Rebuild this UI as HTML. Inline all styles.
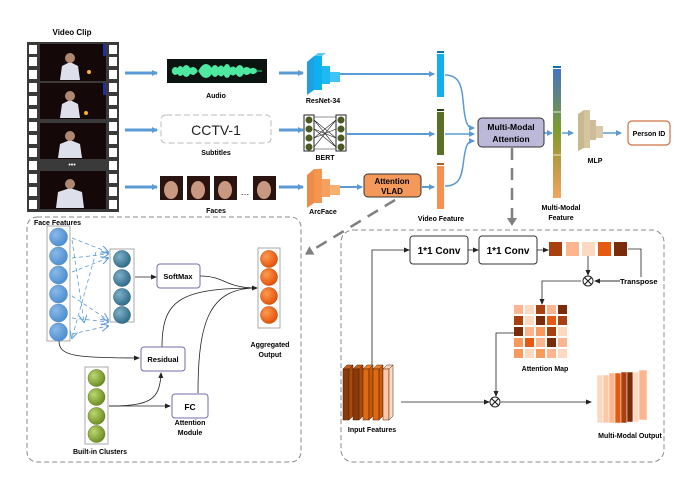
<!DOCTYPE html>
<html><head><meta charset="utf-8"><style>
html,body{margin:0;padding:0;background:#fff}
svg{display:block}
text{font-family:"Liberation Sans",sans-serif}
</style></head><body>
<svg width="692" height="486" viewBox="0 0 692 486" xmlns="http://www.w3.org/2000/svg">
<defs>
<marker id="ab" markerWidth="6" markerHeight="6" refX="5" refY="3" orient="auto" markerUnits="userSpaceOnUse"><path d="M0,0 L6,3 L0,6 z" fill="#5b9bd5"/></marker>
<marker id="abk" markerWidth="6" markerHeight="6" refX="5" refY="3" orient="auto" markerUnits="userSpaceOnUse"><path d="M0,0.5 L6,3 L0,5.5 z" fill="#222"/></marker>
<marker id="ag" markerWidth="10" markerHeight="10" refX="7" refY="5" orient="auto" markerUnits="userSpaceOnUse"><path d="M0,0 L8,5 L0,10 z" fill="#808080"/></marker>
<marker id="ad" markerWidth="8" markerHeight="8" refX="7" refY="4" orient="auto" markerUnits="userSpaceOnUse"><path d="M0,0 L8,4 L0,8" fill="none" stroke="#5b9bd5" stroke-width="1"/></marker>
<linearGradient id="mm" x1="0" y1="0" x2="0" y2="1"><stop offset="0" stop-color="#4472c4"/><stop offset="0.45" stop-color="#7a9a30"/><stop offset="0.7" stop-color="#b59a40"/><stop offset="1" stop-color="#f4a460"/></linearGradient>
<radialGradient id="cb" cx="0.35" cy="0.35" r="0.7"><stop offset="0" stop-color="#8ab8e8"/><stop offset="1" stop-color="#4a8ed0"/></radialGradient>
<radialGradient id="ct" cx="0.35" cy="0.35" r="0.7"><stop offset="0" stop-color="#7fb0c8"/><stop offset="1" stop-color="#2e6a88"/></radialGradient>
<radialGradient id="co" cx="0.35" cy="0.35" r="0.7"><stop offset="0" stop-color="#ff9a50"/><stop offset="1" stop-color="#e05008"/></radialGradient>
<radialGradient id="cg" cx="0.35" cy="0.35" r="0.7"><stop offset="0" stop-color="#bcd870"/><stop offset="1" stop-color="#6a8a20"/></radialGradient>
</defs>

<!-- Film strip -->
<text x="72" y="35" font-size="8" font-weight="bold" text-anchor="middle">Video Clip</text>
<rect x="27" y="42" width="92" height="170" fill="#3a3a3a"/>
<g fill="#fff">
<rect x="29" y="45" width="8" height="9"/><rect x="29" y="57" width="8" height="9"/><rect x="29" y="70" width="8" height="9"/><rect x="29" y="83" width="8" height="9"/><rect x="29" y="96" width="8" height="9"/><rect x="29" y="109" width="8" height="9"/><rect x="29" y="122" width="8" height="9"/><rect x="29" y="135" width="8" height="9"/><rect x="29" y="148" width="8" height="9"/><rect x="29" y="161" width="8" height="9"/><rect x="29" y="174" width="8" height="9"/><rect x="29" y="187" width="8" height="9"/><rect x="29" y="200" width="8" height="9"/>
<rect x="109" y="45" width="8" height="9"/><rect x="109" y="57" width="8" height="9"/><rect x="109" y="70" width="8" height="9"/><rect x="109" y="83" width="8" height="9"/><rect x="109" y="96" width="8" height="9"/><rect x="109" y="109" width="8" height="9"/><rect x="109" y="122" width="8" height="9"/><rect x="109" y="135" width="8" height="9"/><rect x="109" y="148" width="8" height="9"/><rect x="109" y="161" width="8" height="9"/><rect x="109" y="174" width="8" height="9"/><rect x="109" y="187" width="8" height="9"/><rect x="109" y="200" width="8" height="9"/>
</g>
<g>
<rect x="40" y="44" width="66" height="37" fill="#140808"/><rect x="40" y="83" width="66" height="36" fill="#140808"/><rect x="40" y="123" width="66" height="36" fill="#140808"/><rect x="40" y="171" width="66" height="38" fill="#140808"/>
<path d="M60,80 L62,66 L70,62 L78,66 L80,80z M60,118 L62,104 L70,100 L78,104 L80,118z M58,158 L60,144 L70,140 L80,144 L82,158z M56,208 L58,192 L70,188 L82,192 L84,208z" fill="#dde0ea"/>
<circle cx="70" cy="58" r="5" fill="#b08870"/><circle cx="70" cy="96" r="5" fill="#b08870"/><circle cx="70" cy="136" r="5" fill="#b08870"/><circle cx="70" cy="184" r="5" fill="#b08870"/>
<rect x="103" y="44" width="3" height="12" fill="#2030a0"/><rect x="103" y="83" width="3" height="12" fill="#2030a0"/>
<circle cx="89" cy="72" r="2" fill="#ffb020"/><circle cx="86" cy="113" r="2" fill="#ffb020"/>
</g>
<text x="72" y="167" font-size="7" fill="#fff" text-anchor="middle">•••</text>

<!-- Row arrows -->
<g stroke="#5b9bd5" stroke-width="3" fill="none" marker-end="url(#ab)">
<line x1="125" y1="73" x2="157" y2="73"/><line x1="125" y1="130" x2="157" y2="130"/><line x1="125" y1="187" x2="157" y2="187"/>
<line x1="279" y1="73" x2="303" y2="73"/><line x1="279" y1="130" x2="303" y2="130"/><line x1="279" y1="187" x2="303" y2="187"/>
</g>
<!-- audio -->
<rect x="167" y="59" width="100" height="24" fill="#0b1410"/>
<path d="M172,71 L262,71" stroke="#3fd38c" stroke-width="1"/>
<path d="M173,71 Q175,66 178,71 Q180,64 183,71 Q186,62 190,71 Q193,66 196,71 M200,71 Q206,60 212,71 Q215,62 218,71 Q221,63 224,71 Q227,60 230,71 Q233,65 236,71 Q240,62 243,71 Q247,66 250,71 Q253,68 256,71" stroke="#4ee8a0" stroke-width="3" fill="#4ee8a0"/>
<path d="M173,71 Q175,76 178,71 Q180,78 183,71 Q186,80 190,71 Q193,76 196,71 M200,71 Q206,82 212,71 Q215,80 218,71 Q221,79 224,71 Q227,82 230,71 Q233,77 236,71 Q240,80 243,71 Q247,76 250,71 Q253,74 256,71" stroke="#4ee8a0" stroke-width="3" fill="#4ee8a0"/>
<text x="216" y="98" font-size="7" font-weight="bold" text-anchor="middle">Audio</text>
<!-- subtitles -->
<rect x="161" y="115" width="110" height="28" rx="5" fill="#fff" stroke="#bbb" stroke-width="1" stroke-dasharray="6,3"/>
<text x="216" y="135" font-size="14" text-anchor="middle" fill="#222">CCTV-1</text>
<text x="216" y="155" font-size="7" font-weight="bold" text-anchor="middle">Subtitles</text>
<!-- faces -->
<g fill="#2a1410"><rect x="160" y="176" width="23" height="24"/><rect x="187" y="176" width="23" height="24"/><rect x="214" y="176" width="23" height="24"/><rect x="253" y="176" width="23" height="24"/></g>
<g fill="#c89880"><ellipse cx="171" cy="190" rx="7" ry="9"/><ellipse cx="198" cy="190" rx="7" ry="9"/><ellipse cx="225" cy="190" rx="7" ry="9"/><ellipse cx="264" cy="190" rx="7" ry="9"/></g>
<text x="245" y="195" font-size="9" text-anchor="middle">…</text>
<text x="216" y="213" font-size="7" font-weight="bold" text-anchor="middle">Faces</text>

<!-- ResNet -->
<g>
<path d="M307,62 L314,56 L314,90 L307,95z" fill="#1fa0e0"/><path d="M314,56 L322,56 L322,90 L314,90z" fill="#0fb0f0"/>
<path d="M322,66 L330,66 L330,84 L322,84z" fill="#20b8f0"/><path d="M330,72 L340,72 L340,82 L330,82z" fill="#40c4f4"/>
<path d="M314,56 L318,53 L326,53 L322,56z" fill="#60c8f0"/>
</g>
<text x="323" y="103" font-size="7" font-weight="bold" text-anchor="middle">ResNet-34</text>
<!-- BERT -->
<rect x="304" y="115" width="10" height="36" fill="#fff" stroke="#222"/><rect x="336" y="115" width="10" height="36" fill="#fff" stroke="#222"/>
<g fill="#4a5a22"><circle cx="309" cy="120" r="3.5"/><circle cx="309" cy="129" r="3.5"/><circle cx="309" cy="138" r="3.5"/><circle cx="309" cy="147" r="3.5"/><circle cx="341" cy="120" r="3.5"/><circle cx="341" cy="129" r="3.5"/><circle cx="341" cy="138" r="3.5"/><circle cx="341" cy="147" r="3.5"/></g>
<path d="M314,117 L336,117 M314,149 L336,149 M314,120 L336,147 M314,147 L336,120 M314,129 L336,138 M314,138 L336,129 M314,120 L336,138 M314,138 L336,120 M314,129 L336,147" stroke="#222" stroke-width="0.6"/>
<text x="325" y="160" font-size="7" font-weight="bold" text-anchor="middle">BERT</text>
<!-- ArcFace -->
<path d="M307,175 L314,169 L314,203 L307,208z" fill="#f08a48"/><path d="M314,169 L322,169 L322,203 L314,203z" fill="#f4964f"/>
<path d="M322,179 L330,179 L330,197 L322,197z" fill="#f6a060"/><path d="M330,185 L340,185 L340,195 L330,195z" fill="#f8b070"/>
<text x="323" y="214" font-size="7" font-weight="bold" text-anchor="middle">ArcFace</text>

<!-- lines to bars -->
<g stroke="#5b9bd5" stroke-width="2" fill="none" marker-end="url(#ab)">
<line x1="340" y1="74" x2="434" y2="74"/><line x1="347" y1="134" x2="434" y2="134"/>
<line x1="340" y1="187" x2="362" y2="187"/><line x1="422" y1="187" x2="434" y2="187"/>
</g>
<rect x="364" y="174" width="57" height="23" rx="4" fill="#f4995a" stroke="#333" stroke-width="1"/>
<text x="392" y="184" font-size="8" font-weight="bold" text-anchor="middle">Attention</text>
<text x="392" y="194" font-size="8" font-weight="bold" text-anchor="middle">VLAD</text>
<!-- bars -->
<rect x="437" y="51" width="7" height="2" fill="#1070b0"/><rect x="437" y="54" width="7" height="43" fill="#10b0f0"/>
<rect x="437" y="109" width="7" height="2" fill="#2a4010"/><rect x="437" y="112" width="7" height="43" fill="#5a7028"/>
<rect x="437" y="163" width="7" height="2" fill="#a06040"/><rect x="437" y="166" width="7" height="43" fill="#f89050"/>
<text x="441" y="221" font-size="7" font-weight="bold" text-anchor="middle">Video Feature</text>
<g stroke="#5b9bd5" stroke-width="1.5" fill="none" marker-end="url(#ab)">
<path d="M445,75 C462,75 462,90 464,110 C466,125 468,128 474,128"/>
<line x1="445" y1="134" x2="474" y2="134"/>
<path d="M445,186 C462,186 462,172 464,158 C466,144 468,141 474,141"/>
<line x1="541" y1="133" x2="552" y2="133"/><line x1="562" y1="133" x2="573" y2="133"/><line x1="603" y1="133" x2="621" y2="133"/>
</g>
<rect x="478" y="118" width="66" height="29" rx="4" fill="#bcb8d8" stroke="#333" stroke-width="1"/>
<text x="511" y="130" font-size="8.5" font-weight="bold" text-anchor="middle">Multi-Modal</text>
<text x="511" y="142" font-size="8.5" font-weight="bold" text-anchor="middle">Attention</text>
<rect x="553" y="66" width="8" height="2" fill="#1070b0"/>
<rect x="553" y="69" width="8" height="129" fill="url(#mm)"/>
<line x1="553" y1="112" x2="561" y2="112" stroke="#fff" stroke-width="0.8"/><line x1="553" y1="155" x2="561" y2="155" stroke="#fff" stroke-width="0.8"/>
<text x="561" y="210" font-size="7" font-weight="bold" text-anchor="middle">Multi-Modal</text>
<text x="561" y="220" font-size="7" font-weight="bold" text-anchor="middle">Feature</text>
<!-- MLP -->
<path d="M578,114 L584,110 L584,148 L578,151z" fill="#c8b890"/><path d="M584,110 L590,110 L590,148 L584,148z" fill="#d4c4a0"/>
<path d="M590,120 L596,120 L596,140 L590,140z" fill="#cdbd98"/><path d="M596,126 L603,126 L603,138 L596,138z" fill="#d8caa8"/>
<text x="595" y="163" font-size="7" font-weight="bold" text-anchor="middle">MLP</text>
<rect x="628" y="121" width="42" height="24" rx="4" fill="#fff" stroke="#d07040" stroke-width="1.2"/>
<text x="649" y="136" font-size="7" font-weight="bold" text-anchor="middle">Person ID</text>

<!-- gray dashed arrows -->
<line x1="512" y1="148" x2="512" y2="225" stroke="#808080" stroke-width="2.5" stroke-dasharray="12,8" marker-end="url(#ag)"/>
<line x1="395" y1="200" x2="306" y2="254" stroke="#808080" stroke-width="2.5" stroke-dasharray="12,8" marker-end="url(#ag)"/>

<!-- left dashed box -->
<rect x="27" y="217" width="274" height="245" rx="10" fill="none" stroke="#888" stroke-width="1" stroke-dasharray="5,3"/>
<text x="34" y="225" font-size="7" font-weight="bold">Face Features</text>
<rect x="47" y="226" width="23" height="115" fill="#fff" stroke="#aaa"/>
<g fill="url(#cb)" stroke="#5a88b8" stroke-width="0.5"><circle cx="58.5" cy="237" r="9"/><circle cx="58.5" cy="256" r="9"/><circle cx="58.5" cy="275" r="9"/><circle cx="58.5" cy="294" r="9"/><circle cx="58.5" cy="313" r="9"/><circle cx="58.5" cy="332" r="9"/></g>
<g stroke="#5b9bd5" stroke-width="0.8" stroke-dasharray="4,3" fill="none" marker-end="url(#ad)">
<line x1="72" y1="238" x2="108" y2="252"/><line x1="72" y1="240" x2="84" y2="322"/><line x1="72" y1="258" x2="108" y2="254"/><line x1="72" y1="272" x2="108" y2="258"/>
<line x1="72" y1="296" x2="108" y2="320"/><line x1="72" y1="318" x2="108" y2="322"/><line x1="72" y1="334" x2="108" y2="326"/><line x1="96" y1="252" x2="72" y2="338"/>
</g>
<rect x="110" y="249" width="24" height="73" fill="#fff" stroke="#aaa"/>
<g fill="url(#ct)" stroke="#2a5a78" stroke-width="0.5"><circle cx="122" cy="259" r="8.5"/><circle cx="122" cy="278" r="8.5"/><circle cx="122" cy="297" r="8.5"/><circle cx="122" cy="315" r="8.5"/></g>
<line x1="135" y1="277" x2="156" y2="277" stroke="#222" stroke-width="0.8" marker-end="url(#abk)"/>
<rect x="157" y="264" width="43" height="24" rx="3" fill="#fff" stroke="#7a6aa8" stroke-width="1"/>
<text x="178" y="279" font-size="7.5" font-weight="bold" text-anchor="middle">SoftMax</text>
<rect x="258" y="248" width="22" height="80" fill="#fff" stroke="#aaa"/>
<g fill="url(#co)" stroke="#c04000" stroke-width="0.5"><circle cx="269" cy="259" r="8.5"/><circle cx="269" cy="277" r="8.5"/><circle cx="269" cy="296" r="8.5"/><circle cx="269" cy="315" r="8.5"/></g>
<text x="270" y="347" font-size="7" font-weight="bold" text-anchor="middle">Aggregated</text>
<text x="270" y="357" font-size="7" font-weight="bold" text-anchor="middle">Output</text>
<g stroke="#222" stroke-width="0.8" fill="none">
<path d="M200,276 C225,276 225,288 257,288" marker-end="url(#abk)"/>
<path d="M162,347 C162,300 180,288 257,288"/>
<path d="M198,393 C198,320 210,288 257,288"/>
<path d="M59,341 C59,356 75,358 139,358" marker-end="url(#abk)"/>
<path d="M109,406 C150,406 160,400 161,373" marker-end="url(#abk)"/>
<line x1="109" y1="406" x2="170" y2="406" marker-end="url(#abk)"/>
</g>
<rect x="141" y="347" width="44" height="24" rx="3" fill="#fff" stroke="#7a6aa8" stroke-width="1"/>
<text x="163" y="362" font-size="7.5" font-weight="bold" text-anchor="middle">Residual</text>
<rect x="172" y="394" width="36" height="24" rx="3" fill="#fff" stroke="#7a6aa8" stroke-width="1"/>
<text x="190" y="410" font-size="8.5" font-weight="bold" text-anchor="middle">FC</text>
<text x="190" y="425" font-size="7" font-weight="bold" text-anchor="middle">Attention</text>
<text x="190" y="435" font-size="7" font-weight="bold" text-anchor="middle">Module</text>
<rect x="85" y="367" width="23" height="77" fill="#fff" stroke="#aaa"/>
<g fill="url(#cg)" stroke="#5a7a18" stroke-width="0.5"><circle cx="96.5" cy="378" r="8.5"/><circle cx="96.5" cy="397" r="8.5"/><circle cx="96.5" cy="416" r="8.5"/><circle cx="96.5" cy="434" r="8.5"/></g>
<text x="100" y="454" font-size="7" font-weight="bold" text-anchor="middle">Built-in Clusters</text>

<!-- right dashed box -->
<rect x="341" y="230" width="323" height="232" rx="12" fill="none" stroke="#888" stroke-width="1" stroke-dasharray="5,3"/>
<rect x="410" y="236" width="58" height="28" rx="3" fill="#fff" stroke="#333"/>
<text x="439" y="254" font-size="10" font-weight="bold" text-anchor="middle">1*1 Conv</text>
<rect x="479" y="236" width="58" height="28" rx="3" fill="#fff" stroke="#333"/>
<text x="508" y="254" font-size="10" font-weight="bold" text-anchor="middle">1*1 Conv</text>
<g stroke="#222" stroke-width="0.8" fill="none" marker-end="url(#abk)">
<path d="M372,365 L372,250 L409,250"/>
<line x1="468" y1="250" x2="478" y2="250"/>
<line x1="537" y1="250" x2="548" y2="250"/>
<line x1="588" y1="256" x2="588" y2="275"/>
<path d="M628,249 L641,249 L641,281 L595,281" marker-end="none"/>
<line x1="622" y1="281" x2="595" y2="281"/>
<path d="M581,281 L542,281 L542,304"/>
<line x1="401" y1="402" x2="489" y2="402"/>
<path d="M514,333 L496,333 L496,396"/>
<line x1="501" y1="402" x2="591" y2="402"/>
</g>
<rect x="549" y="242" width="13" height="14" fill="#a8410f"/><rect x="566" y="242" width="13" height="14" fill="#fcb58f"/><rect x="582" y="242" width="13" height="14" fill="#fdd9c2"/><rect x="598" y="242" width="13" height="14" fill="#e55a10"/><rect x="614" y="242" width="13" height="14" fill="#7a2c0a"/>
<rect x="620" y="277" width="42" height="9" fill="#fff"/>
<text x="620" y="284" font-size="7.5" font-weight="bold">Transpose</text>
<g fill="#fff" stroke="#222" stroke-width="1"><circle cx="588" cy="281" r="5"/><circle cx="495" cy="402" r="5"/></g>
<path d="M584.5,277.5 L591.5,284.5 M591.5,277.5 L584.5,284.5 M491.5,398.5 L498.5,405.5 M498.5,398.5 L491.5,405.5" stroke="#222" stroke-width="1.2"/>
<!-- attention map -->
<g>
<rect x="514" y="305" width="9" height="9" fill="#fcb58f"/><rect x="525" y="305" width="9" height="9" fill="#fdd9c2"/><rect x="536" y="305" width="9" height="9" fill="#a8410f"/><rect x="547" y="305" width="9" height="9" fill="#fcb58f"/><rect x="558" y="305" width="9" height="9" fill="#7a2c0a"/>
<rect x="514" y="316" width="9" height="9" fill="#a8410f"/><rect x="525" y="316" width="9" height="9" fill="#fdd9c2"/><rect x="536" y="316" width="9" height="9" fill="#7a2c0a"/><rect x="547" y="316" width="9" height="9" fill="#e55a10"/><rect x="558" y="316" width="9" height="9" fill="#a8410f"/>
<rect x="514" y="327" width="9" height="9" fill="#7a2c0a"/><rect x="525" y="327" width="9" height="9" fill="#fcb58f"/><rect x="536" y="327" width="9" height="9" fill="#f89a5c"/><rect x="547" y="327" width="9" height="9" fill="#a8410f"/><rect x="558" y="327" width="9" height="9" fill="#fdd9c2"/>
<rect x="514" y="338" width="9" height="9" fill="#f89a5c"/><rect x="525" y="338" width="9" height="9" fill="#e55a10"/><rect x="536" y="338" width="9" height="9" fill="#fcb58f"/><rect x="547" y="338" width="9" height="9" fill="#7a2c0a"/><rect x="558" y="338" width="9" height="9" fill="#fcb58f"/>
<rect x="514" y="349" width="9" height="9" fill="#f89a5c"/><rect x="525" y="349" width="9" height="9" fill="#fdd9c2"/><rect x="536" y="349" width="9" height="9" fill="#f89a5c"/><rect x="547" y="349" width="9" height="9" fill="#fcb58f"/><rect x="558" y="349" width="9" height="9" fill="#fdd9c2"/>
</g>
<text x="545" y="371" font-size="7" font-weight="bold" text-anchor="middle">Attention Map</text>
<!-- input features -->
<g stroke="#4a2006" stroke-width="0.5">
<path d="M343,369 L347,365 L353,365 L349,369z" fill="#c86010"/><rect x="343" y="369" width="6" height="51" fill="#8a3a08"/><path d="M349,369 L353,365 L353,416 L349,420z" fill="#a84a0c"/>
<path d="M353,369 L357,365 L363,365 L359,369z" fill="#c86010"/><rect x="353" y="369" width="6" height="51" fill="#8a3a08"/><path d="M359,369 L363,365 L363,416 L359,420z" fill="#a84a0c"/>
<path d="M363,369 L367,365 L373,365 L369,369z" fill="#f08030"/><rect x="363" y="369" width="6" height="51" fill="#e06a10"/><path d="M369,369 L373,365 L373,416 L369,420z" fill="#c85a10"/>
<path d="M373,369 L377,365 L383,365 L379,369z" fill="#f08030"/><rect x="373" y="369" width="6" height="51" fill="#e06a10"/><path d="M379,369 L383,365 L383,416 L379,420z" fill="#c85a10"/>
<path d="M383,369 L387,365 L393,365 L389,369z" fill="#fdd9c2"/><rect x="383" y="369" width="6" height="51" fill="#fcc8a8"/><path d="M389,369 L393,365 L393,416 L389,420z" fill="#fdd9c2"/>
</g>
<text x="372" y="432" font-size="7" font-weight="bold" text-anchor="middle">Input Features</text>
<!-- output -->
<g stroke="#fff" stroke-width="0.5">
<rect x="597" y="375" width="6" height="48" fill="#fdd9c2"/><rect x="603" y="375" width="6" height="48" fill="#fcc8a8"/><rect x="609" y="373" width="6" height="50" fill="#fcb58f"/>
<rect x="615" y="373" width="6" height="50" fill="#e55a10"/><rect x="621" y="372" width="6" height="51" fill="#a8410f"/><rect x="627" y="372" width="6" height="50" fill="#7a2c0a"/>
<rect x="633" y="372" width="6" height="50" fill="#fdd9c2"/><rect x="639" y="370" width="8" height="50" fill="#fcb58f"/>
</g>
<text x="630" y="438" font-size="7" font-weight="bold" text-anchor="middle">Multi-Modal Output</text>
</svg>
</body></html>
